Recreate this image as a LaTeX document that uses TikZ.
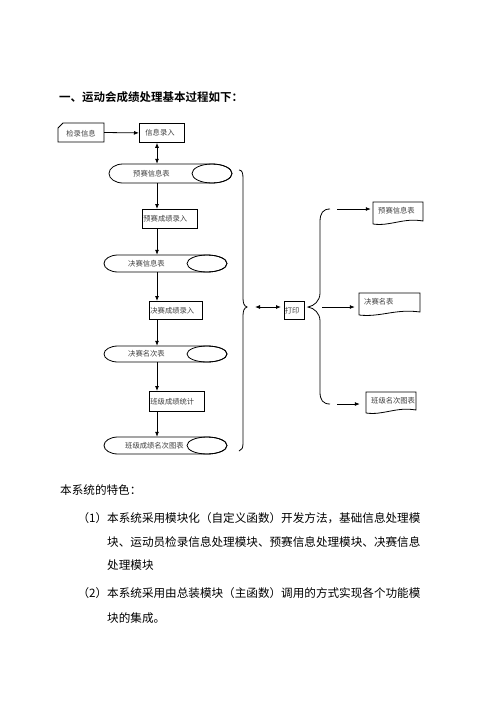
\documentclass[tikz,border=0pt]{standalone}
\usepackage{fontspec}
\setmainfont{Noto Sans CJK SC}[BoldFont={Noto Sans CJK SC Bold}]
\usetikzlibrary{arrows.meta,fit,calc}
\newcommand\cylshape[7]{% name L T R B textx text
  \coordinate (#1-a) at (#2,-#3); \coordinate (#1-b) at (#4,-#5);
  \node[fit=(#1-a)(#1-b),inner sep=0pt] (#1) {};
  \pgfmathsetmacro\ry{(#5-#3)/2}
  \draw[shp] (#2+14,-#3) -- (#4-20,-#3) arc[start angle=90,end angle=-90,x radius=20,y radius=\ry] -- (#2+14,-#5) arc[start angle=270,end angle=90,x radius=14,y radius=\ry] -- cycle;
  \draw[shp] (#4-20,-#3-\ry) ellipse[x radius=20,y radius=\ry];
  \node[lbl,anchor=west] (#1-t) at (#6,-#3-\ry) {#7};
}
\newcommand\docshape[6]{% name L T R B text
  \coordinate (#1-a) at (#2,-#3); \coordinate (#1-b) at (#4,-#5);
  \node[fit=(#1-a)(#1-b),inner sep=0pt] (#1) {};
  \draw[shp] (#2,-#5) -- (#2,-#3) -- (#4,-#3) -- (#4,-#5+3) .. controls ({#4-(#4-#2)*0.4},-#5+6.5) and ({#2+(#4-#2)*0.35},-#5-2.5) .. (#2,-#5);
  \node[lbl,anchor=west] (#1-t) at (#2+5,-#3-9) {#6};
}
\begin{document}
\begin{tikzpicture}[x=1pt,y=1pt,
  shp/.style={draw=black,line width=0.8pt},
  arr/.style={line width=0.8pt,-{Latex[length=5pt,width=4pt]}},
  darr/.style={line width=0.8pt,{Latex[length=5pt,width=4pt]}-{Latex[length=5pt,width=4pt]}},
  lbl/.style={text=black!75,font=\fontsize{7.3}{8}\selectfont,inner sep=0pt},
  boxst/.style={shp,text=black!75,font=\fontsize{7.3}{8}\selectfont,anchor=north west,align=left,inner ysep=0pt},
  body/.style={font=\fontsize{11.6}{14}\selectfont,inner sep=0pt,anchor=west}
]
\fill[white] (0,0) rectangle (496,-702);
\useasboundingbox (0,0) rectangle (496,-702);

% title
\node[body,font=\fontsize{11.5}{14}\selectfont\bfseries] (title) at (59,-97) {一、运动会成绩处理基本过程如下：};

% 检录信息 card
\coordinate (jl-a) at (58,-123); \coordinate (jl-b) at (104,-142);
\node[fit=(jl-a)(jl-b),inner sep=0pt] (jl) {};
\draw[shp] (58,-128) -- (63,-123) -- (104,-123) -- (104,-142) -- (58,-142) -- cycle;
\node[lbl] (jl-t) at (81,-134) {检录信息};

% process boxes
\node[boxst,minimum height=19pt,text width=33pt,inner xsep=6pt] (xxlr) at (139,-123) {信息录入};
\node[boxst,minimum height=19pt,text width=53pt,inner xsep=1pt] (yscj) at (142,-209) {预赛成绩录入};
\node[boxst,minimum height=18pt,text width=51pt,inner xsep=1pt] (jscj) at (149,-301) {决赛成绩录入};
\node[boxst,minimum height=20pt,text width=53pt,inner xsep=1pt] (bjtj) at (149,-391) {班级成绩统计};
\node[boxst,minimum height=18pt,text width=19pt,inner xsep=0.5pt] (dy) at (284,-301) {打印};

% stored data
\cylshape{pre}{109}{164}{232}{183}{133}{预赛信息表}
\cylshape{jsxx}{104}{255}{227}{272}{128}{决赛信息表}
\cylshape{jsmc}{104}{346}{227}{362}{128}{决赛名次表}
\cylshape{bjmc}{104}{437}{227}{454}{125}{班级成绩名次图表}

% documents
\docshape{d1}{373}{202}{423}{224}{预赛信息表}
\docshape{d2}{359}{293}{420}{315}{决赛名表}
\docshape{d3}{366}{392}{416}{413}{班级名次图表}

% braces
\coordinate (lbt) at (247,-307);
\draw[shp] (239,-170) .. controls (242,-170) and (243,-173) .. (243,-178) -- (243,-298)
  .. controls (243,-303) and (244,-306) .. (lbt)
  .. controls (244,-308) and (243,-311) .. (243,-316) -- (243,-443)
  .. controls (243,-448) and (242,-450) .. (239,-451);
\coordinate (rbt) at (308,-307);
\draw[shp] (330,-209) .. controls (323,-209) and (320,-213) .. (320,-222) -- (320,-293)
  .. controls (320,-301) and (314,-306) .. (rbt)
  .. controls (314,-308) and (320,-313) .. (320,-321) -- (320,-392)
  .. controls (320,-400) and (323,-404) .. (330,-404);

% connectors
\coordinate (colx) at (157,0);
\draw[arr] (jl.east) -- (xxlr.west);
\draw[darr] (xxlr.south -| colx) -- (pre.north -| colx);
\draw[arr] (pre.south -| colx) -- (yscj.north -| colx);
\draw[arr] (yscj.south -| colx) -- (jsxx.north -| colx);
\draw[arr] (jsxx.south -| colx) -- (jscj.north -| colx);
\draw[arr] (jscj.south -| colx) -- (jsmc.north -| colx);
\draw[arr] (jsmc.south -| colx) -- (bjtj.north -| colx);
\draw[arr] (bjtj.south -| colx) -- (bjmc.north -| colx);

\coordinate (lbs) at (255,-307);
\draw[darr,shorten >=3pt] (lbs) -- (lbs -| dy.west);
\coordinate (rtop) at (337,-209);
\coordinate (rmid) at (322,-307);
\coordinate (rbot) at (337,-404);
\draw[arr,shorten >=2pt] (rtop) -- (rtop -| d1.west);
\draw[arr,shorten >=4pt] (rmid) -- (rmid -| d2.west);
\draw[arr,shorten >=6pt] (rbot) -- (rbot -| d3.west);

% body text
\node[body] (b0) at (60,-490) {本系统的特色：};
\node[body] (b1) at (77.4,-518) {（1）本系统采用模块化（自定义函数）开发方法，基础信息处理模};
\node[body] (b2) at (107,-542) {块、运动员检录信息处理模块、预赛信息处理模块、决赛信息};
\node[body] (b3) at (107,-565) {处理模块};
\node[body] (b4) at (77.4,-593) {（2）本系统采用由总装模块（主函数）调用的方式实现各个功能模};
\node[body] (b5) at (107,-618) {块的集成。};
\end{tikzpicture}
\end{document}
